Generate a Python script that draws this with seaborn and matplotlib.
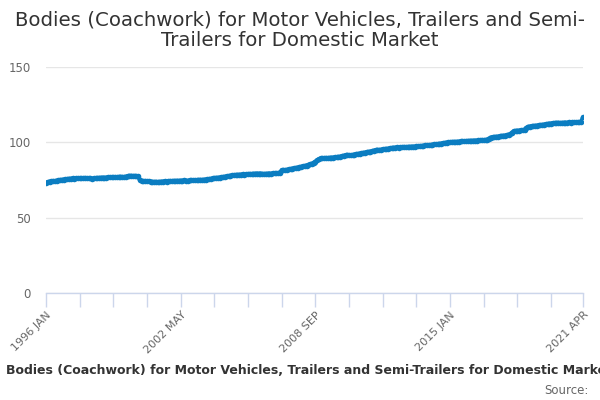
import numpy as np
import pandas as pd
import matplotlib
matplotlib.use("Agg")
import matplotlib.pyplot as plt
import seaborn as sns

# monthly index values, 1996 JAN .. 2021 APR
v1996 = [73.2, 73.6, 73.9, 74.1, 74.3, 74.2, 74.5, 74.8, 75.0, 75.1, 75.3, 75.4]
v1997 = [75.6, 75.8, 75.9, 76.0, 75.9, 76.1, 76.2, 76.1, 76.0, 76.2, 76.3, 76.2]
v1998 = [76.1, 76.0, 75.9, 76.0, 76.2, 76.3, 76.4, 76.5, 76.6, 76.5, 76.6, 76.7]
v1999 = [76.8, 76.7, 76.8, 76.9, 76.8, 77.0, 77.1, 77.0, 76.9, 77.2, 77.5, 77.7]
v2000 = [77.8, 77.6, 77.7, 77.5, 77.4, 75.0, 74.3, 74.2, 74.3, 74.1, 74.2, 74.0]
v2001 = [73.8, 73.7, 73.8, 73.6, 73.7, 73.9, 74.0, 74.1, 74.0, 74.2, 74.3, 74.2]
v2002 = [74.4, 74.3, 74.5, 74.4, 74.6, 74.5, 74.7, 74.6, 74.5, 74.7, 74.8, 74.7]
v2003 = [74.9, 74.8, 75.0, 75.1, 75.0, 75.2, 75.3, 75.4, 75.6, 75.8, 76.0, 76.2]
v2004 = [76.4, 76.5, 76.6, 76.8, 77.0, 77.2, 77.4, 77.6, 77.8, 78.0, 78.2, 78.3]
v2005 = [78.4, 78.5, 78.6, 78.7, 78.6, 78.8, 78.9, 79.0, 78.9, 79.1, 79.2, 79.3]
v2006 = [79.2, 79.3, 79.1, 79.0, 79.1, 79.2, 79.3, 79.2, 79.4, 79.5, 79.4, 79.6]
v2007 = [79.7, 81.4, 81.6, 81.5, 81.8, 82.0, 82.3, 82.5, 82.7, 83.0, 83.2, 83.5]
v2008 = [83.8, 84.0, 84.3, 84.6, 85.0, 85.4, 85.8, 86.4, 87.2, 88.0, 88.8, 89.3]
v2009 = [89.4, 89.5, 89.6, 89.5, 89.7, 89.8, 89.9, 90.0, 90.1, 90.3, 90.5, 90.8]
v2010 = [91.1, 91.4, 91.6, 91.5, 91.3, 91.6, 91.9, 92.2, 92.3, 92.5, 92.7, 93.0]
v2011 = [93.2, 93.5, 93.7, 93.8, 94.1, 94.5, 94.8, 95.0, 94.9, 95.1, 95.3, 95.5]
v2012 = [95.6, 95.8, 96.0, 96.2, 96.4, 96.5, 96.6, 96.5, 96.7, 96.8, 96.9, 96.8]
v2013 = [96.9, 97.0, 97.1, 97.2, 97.1, 97.3, 97.4, 97.5, 97.6, 97.7, 97.9, 98.0]
v2014 = [98.1, 98.2, 98.4, 98.6, 98.7, 98.8, 99.0, 99.2, 99.4, 99.6, 99.8, 100.0]
v2015 = [100.1, 100.2, 100.3, 100.2, 100.4, 100.5, 100.6, 100.7, 100.6, 100.8, 100.9, 101.0]
v2016 = [101.0, 101.1, 101.2, 101.1, 101.3, 101.4, 101.5, 101.4, 101.6, 101.7, 102.5, 103.2]
v2017 = [103.4, 103.5, 103.7, 103.8, 104.0, 104.2, 104.4, 104.5, 104.8, 105.0, 105.3, 106.5]
v2018 = [107.4, 107.6, 107.7, 107.8, 108.0, 108.1, 108.2, 109.5, 110.3, 110.5, 110.7, 110.8]
v2019 = [111.0, 111.1, 111.3, 111.4, 111.6, 111.8, 112.0, 112.2, 112.4, 112.5, 112.7, 112.8]
v2020 = [112.9, 113.0, 112.8, 112.9, 113.0, 113.1, 113.0, 113.2, 113.1, 113.2, 113.3, 113.2]
v2021 = [113.4, 113.3, 113.5, 116.5]

values = (v1996 + v1997 + v1998 + v1999 + v2000 + v2001 + v2002 + v2003 + v2004
          + v2005 + v2006 + v2007 + v2008 + v2009 + v2010 + v2011 + v2012 + v2013
          + v2014 + v2015 + v2016 + v2017 + v2018 + v2019 + v2020 + v2021)

month_names = ["JAN", "FEB", "MAR", "APR", "MAY", "JUN",
               "JUL", "AUG", "SEP", "OCT", "NOV", "DEC"]
categories = [f"{1996 + k // 12} {month_names[k % 12]}" for k in range(len(values))]
shown_labels = ["1996 JAN", "2002 MAY", "2008 SEP", "2015 JAN", "2021 APR"]
y_ticks = [0, 50, 100, 150]

title = "Bodies (Coachwork) for Motor Vehicles, Trailers and Semi-\nTrailers for Domestic Market"
caption = "Bodies (Coachwork) for Motor Vehicles, Trailers and Semi-Trailers for Domestic Market"

df = pd.DataFrame({"pos": np.arange(len(values)), "month": categories, "value": values})

sns.set_style("white")
plt.rcParams["font.family"] = ["DejaVu Sans"]

fig = plt.figure(figsize=(6, 4), dpi=100)
ax = fig.add_axes([46 / 600, 1 - 293 / 400, 537 / 600, 226 / 400])

sns.lineplot(data=df, x="pos", y="value", ax=ax, color="#0b7dc1", linewidth=3.2,
             marker="o", markersize=4, markeredgewidth=0)

ax.set_xlim(0, len(values) - 1)
ax.set_ylim(0, 150)
ax.set_yticks(y_ticks)
ax.set_yticklabels([str(t) for t in y_ticks])
ax.grid(axis="y", color="#e6e6e6", linewidth=1)
ax.set_axisbelow(True)

tick_pos = list(range(0, len(values) - 1, 19)) + [len(values) - 1]
tick_lab = [categories[p] if categories[p] in shown_labels else "" for p in tick_pos]
ax.set_xticks(tick_pos)
ax.set_xticklabels(tick_lab, rotation=45, ha="right", rotation_mode="anchor")
ax.tick_params(axis="x", length=10, width=1, color="#ccd6eb", labelcolor="#666666",
               labelsize=8, pad=2, direction="out", bottom=True)
ax.tick_params(axis="y", length=0, labelsize=8.5, labelcolor="#666666", pad=11)

for s in ["top", "right", "left"]:
    ax.spines[s].set_visible(False)
ax.spines["bottom"].set_color("#ccd6eb")
ax.spines["bottom"].set_linewidth(1)
ax.set_xlabel("")
ax.set_ylabel("")

fig.text(0.5, 1 - 30 / 400, title, ha="center", va="center", fontsize=14.2,
         color="#333333", linespacing=1.1)
fig.text(6 / 600, 1 - 371 / 400, caption, ha="left", va="center", fontsize=9,
         fontweight="bold", color="#333333")
fig.text(589 / 600, 1 - 390 / 400, "Source:", ha="right", va="center", fontsize=8.5,
         color="#666666")

fig.savefig("out.png", dpi=100)
